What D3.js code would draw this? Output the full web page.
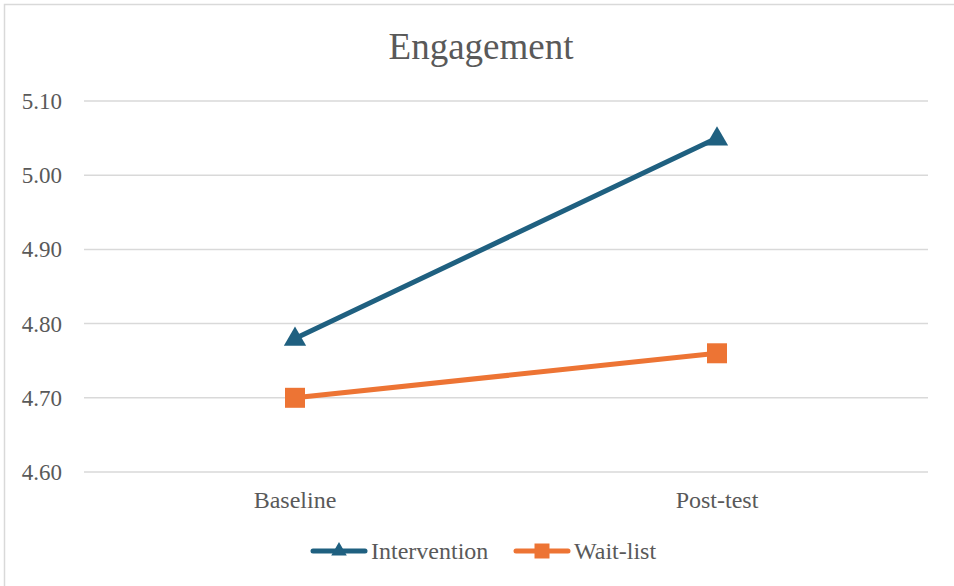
<!DOCTYPE html>
<html><head><meta charset="utf-8">
<script src="https://cdn.jsdelivr.net/npm/d3@7"></script>
<style>body{margin:0;background:#fff}svg{display:block}
text{font-family:"Liberation Serif","Times New Roman",Times,serif;fill:#595959}</style>
</head><body>
<script>
const categories = ["Baseline", "Post-test"];
const intervention = [4.78, 5.05];
const waitlist = [4.70, 4.76];
const yTicks = [4.60, 4.70, 4.80, 4.90, 5.00, 5.10];
const seriesNames = ["Intervention", "Wait-list"];
const colors = ["#1f6080", "#ed7434"];

const W = 954, H = 586;
const svg = d3.select("body").append("svg").attr("width", W).attr("height", H);
svg.append("rect").attr("x", 4.5).attr("y", 4.5).attr("width", W + 6).attr("height", H + 10)
  .attr("fill", "#fff").attr("stroke", "#d9d9d9").attr("stroke-width", 1.5);

const x = d3.scaleBand().domain(categories).range([84, 928]);
const y = d3.scaleLinear().domain([4.60, 5.10]).range([472, 101]);

svg.append("text").attr("x", 481).attr("y", 59).attr("text-anchor", "middle")
  .attr("font-size", 37).text("Engagement");

const g = svg.append("g");
g.selectAll("line.grid").data(yTicks).join("line")
  .attr("x1", 84).attr("x2", 928).attr("y1", d => y(d)).attr("y2", d => y(d))
  .attr("stroke", "#d9d9d9").attr("stroke-width", 1.5);
g.selectAll("text.yl").data(yTicks).join("text")
  .attr("x", 62).attr("y", d => y(d)).attr("dy", "0.35em").attr("text-anchor", "end")
  .attr("font-size", 23).text(d => d.toFixed(2));
g.selectAll("text.xl").data(categories).join("text")
  .attr("x", d => x(d) + x.bandwidth() / 2).attr("y", 508).attr("text-anchor", "middle")
  .attr("font-size", 24).text(d => d);

const series = [intervention, waitlist];
const line = d3.line().x((d, i) => x(categories[i]) + x.bandwidth() / 2).y(d => y(d));
const tri = d3.symbol().type(d3.symbolTriangle).size(215);
const sq = d3.symbol().type(d3.symbolSquare).size(400);
const triL = d3.symbol().type(d3.symbolTriangle).size(105);
const sqL = d3.symbol().type(d3.symbolSquare).size(225);
series.forEach((vals, s) => {
  svg.append("path").attr("d", line(vals)).attr("fill", "none").attr("stroke", colors[s])
    .attr("stroke-width", 5).attr("stroke-linecap", "round");
  svg.selectAll(null).data(vals).join("path")
    .attr("transform", (d, i) => `translate(${x(categories[i]) + x.bandwidth() / 2},${y(d) + (s === 0 ? 1 : 0)})`)
    .attr("d", s === 0 ? tri() : sq()).attr("fill", colors[s]);
});

// legend
const legX = [313, 516];
seriesNames.forEach((n, s) => {
  const lg = svg.append("g").attr("transform", `translate(${legX[s]},551)`);
  lg.append("line").attr("x1", 0).attr("x2", 52).attr("stroke", colors[s]).attr("stroke-width", 5).attr("stroke-linecap", "round");
  lg.append("path").attr("transform", `translate(26,${s === 0 ? 0 : 0})`).attr("d", s === 0 ? triL() : sqL()).attr("fill", colors[s]);
  lg.append("text").attr("x", 58).attr("dy", "0.35em").attr("font-size", 24).text(n);
});
</script>
</body></html>
